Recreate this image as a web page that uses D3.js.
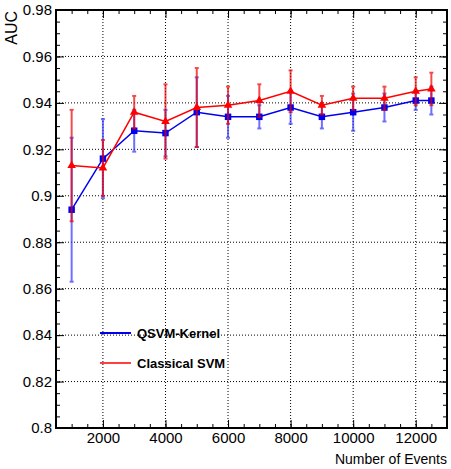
<!DOCTYPE html>
<html>
<head>
<meta charset="utf-8">
<script src="https://cdn.jsdelivr.net/npm/d3@7"></script>
<style>
  body { margin: 0; background: #fff; }
  text { font-family: "Liberation Sans", Arial, sans-serif; }
</style>
</head>
<body>
<div id="chart"></div>
<script>
(function () {

  // data
  const events = [1000, 2000, 3000, 4000, 5000, 6000, 7000, 8000, 9000, 10000, 11000, 12000, 12500];
  const qsvmAuc = [0.894, 0.916, 0.928, 0.927, 0.936, 0.934, 0.934, 0.938, 0.934, 0.936, 0.938, 0.941, 0.941];
  const qsvmErr = [0.031, 0.017, 0.009, 0.010, 0.015, 0.009, 0.005, 0.007, 0.005, 0.008, 0.006, 0.004, 0.006];
  const svmAuc = [0.913, 0.912, 0.936, 0.932, 0.938, 0.939, 0.941, 0.945, 0.939, 0.942, 0.942, 0.945, 0.946];
  const svmErr = [0.024, 0.012, 0.007, 0.016, 0.017, 0.008, 0.007, 0.009, 0.004, 0.005, 0.005, 0.006, 0.007];
  const xTicks = [2000, 4000, 6000, 8000, 10000, 12000];
  const yTicks = [0.8, 0.82, 0.84, 0.86, 0.88, 0.9, 0.92, 0.94, 0.96, 0.98];

  const W = 451, H = 469;
  const left = 56, right = 447, top = 10, bottom = 428;

  const svg = d3.select("#chart")
    .append("svg")
    .attr("width", W)
    .attr("height", H);

  const x = d3.scaleLinear().domain([500, 13000]).range([left, right]);
  const y = d3.scaleLinear().domain([0.8, 0.98]).range([bottom, top]);

  // grid
  svg.append("g")
    .selectAll("line")
    .data(xTicks)
    .join("line")
    .attr("x1", d => x(d)).attr("x2", d => x(d))
    .attr("y1", top).attr("y2", bottom)
    .attr("stroke", "#000").attr("stroke-width", 1)
    .attr("stroke-dasharray", "1,2");
  svg.append("g")
    .selectAll("line")
    .data(yTicks.slice(1, -1))
    .join("line")
    .attr("x1", left).attr("x2", right)
    .attr("y1", d => y(d)).attr("y2", d => y(d))
    .attr("stroke", "#000").attr("stroke-width", 1)
    .attr("stroke-dasharray", "1,2");

  // axes with inward ticks on all sides
  const xMinor = d3.range(500, 13001, 500);
  const yMinor = d3.range(0.8, 0.9801, 0.005);

  const fmtY = d => d3.format("")(+d.toFixed(2));

  // bottom
  svg.append("g").attr("transform", `translate(0,${bottom})`)
    .call(d3.axisBottom(x).tickValues(xMinor).tickSize(-4).tickFormat(""))
    .call(g => g.select(".domain").remove());
  svg.append("g").attr("transform", `translate(0,${bottom})`)
    .call(d3.axisBottom(x).tickValues(xTicks).tickSize(-8).tickPadding(4).tickFormat(d3.format("d")))
    .call(g => g.select(".domain").remove())
    .call(g => g.selectAll("text").attr("font-size", 15));
  // top
  svg.append("g").attr("transform", `translate(0,${top})`)
    .call(d3.axisTop(x).tickValues(xMinor).tickSize(-4).tickFormat(""))
    .call(g => g.select(".domain").remove());
  svg.append("g").attr("transform", `translate(0,${top})`)
    .call(d3.axisTop(x).tickValues(xTicks).tickSize(-8).tickFormat(""))
    .call(g => g.select(".domain").remove());
  // left
  svg.append("g").attr("transform", `translate(${left},0)`)
    .call(d3.axisLeft(y).tickValues(yMinor).tickSize(-4).tickFormat(""))
    .call(g => g.select(".domain").remove());
  svg.append("g").attr("transform", `translate(${left},0)`)
    .call(d3.axisLeft(y).tickValues(yTicks).tickSize(-8).tickFormat(fmtY))
    .call(g => g.select(".domain").remove())
    .call(g => g.selectAll("text").attr("font-size", 15).attr("x", -4));
  // right
  svg.append("g").attr("transform", `translate(${right},0)`)
    .call(d3.axisRight(y).tickValues(yMinor).tickSize(-4).tickFormat(""))
    .call(g => g.select(".domain").remove());
  svg.append("g").attr("transform", `translate(${right},0)`)
    .call(d3.axisRight(y).tickValues(yTicks).tickSize(-8).tickFormat(""))
    .call(g => g.select(".domain").remove());

  svg.selectAll(".tick line").attr("stroke", "#000");
  svg.selectAll(".tick text").attr("fill", "#000");

  // frame
  svg.append("rect")
    .attr("x", left).attr("y", top)
    .attr("width", right - left).attr("height", bottom - top)
    .attr("fill", "none").attr("stroke", "#000").attr("stroke-width", 2);

  // axis titles
  svg.append("text")
    .attr("transform", `translate(17,11) rotate(-90)`)
    .attr("text-anchor", "end")
    .attr("font-size", 16)
    .text("AUC");
  svg.append("text")
    .attr("x", right).attr("y", 464)
    .attr("text-anchor", "end")
    .attr("font-size", 14)
    .text("Number of Events");

  // series
  const series = [
    { name: "QSVM-Kernel", color: "#0000ee", errColor: "#3333ff", vals: qsvmAuc, errs: qsvmErr, marker: "square" },
    { name: "Classical SVM", color: "#ff0000", errColor: "#ee0000", vals: svmAuc, errs: svmErr, marker: "triangle" }
  ];

  series.forEach(s => {
    const pts = events.map((e, i) => ({ e, v: s.vals[i], err: s.errs[i] }));
    const g = svg.append("g");

    // error bars
    const eb = g.append("g").attr("stroke", s.errColor).attr("stroke-width", 2).attr("opacity", 0.7);
    eb.selectAll(".bar").data(pts).join("line")
      .attr("x1", d => x(d.e)).attr("x2", d => x(d.e))
      .attr("y1", d => y(d.v - d.err)).attr("y2", d => y(d.v + d.err));
    eb.selectAll(".capt").data(pts).join("line")
      .attr("x1", d => x(d.e) - 2).attr("x2", d => x(d.e) + 2)
      .attr("y1", d => y(d.v + d.err)).attr("y2", d => y(d.v + d.err));
    eb.selectAll(".capb").data(pts).join("line")
      .attr("x1", d => x(d.e) - 2).attr("x2", d => x(d.e) + 2)
      .attr("y1", d => y(d.v - d.err)).attr("y2", d => y(d.v - d.err));

    g.append("path")
      .datum(pts)
      .attr("fill", "none")
      .attr("stroke", s.color)
      .attr("stroke-width", 1.5)
      .attr("d", d3.line().x(d => x(d.e)).y(d => y(d.v)));

    const sym = s.marker === "square" ? d3.symbolSquare : d3.symbolTriangle;
    const size = s.marker === "square" ? 42 : 32;
    g.selectAll(".m").data(pts).join("path")
      .attr("transform", d => `translate(${x(d.e)},${y(d.v)})`)
      .attr("d", d3.symbol().type(sym).size(size))
      .attr("fill", s.color);
  });

  // legend
  const legend = svg.append("g");
  series.forEach((s, i) => {
    const ly = 333 + i * 30;
    legend.append("line")
      .attr("x1", 100).attr("x2", 131)
      .attr("y1", ly).attr("y2", ly)
      .attr("stroke", s.color).attr("stroke-width", i === 0 ? 2 : 1.5);
    legend.append("text")
      .attr("x", 137).attr("y", ly + 5)
      .attr("font-size", 13).attr("font-weight", "bold")
      .text(s.name);
  });

})();
</script>
</body>
</html>
